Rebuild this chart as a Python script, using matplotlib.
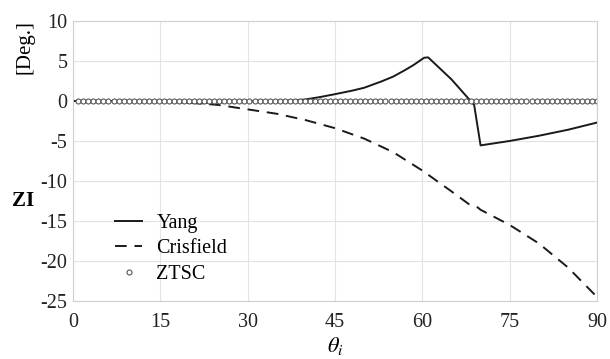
import numpy as np
import matplotlib.pyplot as plt

plt.rcParams['font.family'] = ['Liberation Serif', 'DejaVu Serif']
plt.rcParams['mathtext.fontset'] = 'stix'

# Yang
yang_x = [0, 10, 15, 18, 20, 22, 25, 30, 35, 38, 40, 42.5, 45, 48, 50, 53, 55, 57, 58.5, 59.5,
          60.3, 61, 65, 68.9, 70, 75, 80, 85, 90]
yang_y = [0, 0, -0.05, -0.15, -0.25, -0.3, -0.15, -0.05, 0, 0.05, 0.2, 0.5, 0.85, 1.3, 1.65,
          2.45, 3.05, 3.85, 4.5, 5.0, 5.4, 5.45, 2.7, -0.5, -5.55, -5.0, -4.35, -3.6, -2.7]

# Crisfield
cris_x = [0, 10, 15, 20, 25, 30, 35, 40, 45, 50, 55, 60, 65, 68, 69.5, 70, 75, 80, 85, 90]
cris_y = [0, 0, -0.05, -0.2, -0.5, -1.05, -1.6, -2.4, -3.4, -4.7, -6.4, -8.7, -11.3, -12.9,
          -13.3, -13.6, -15.5, -17.8, -20.8, -24.5]

# ZTSC
ztsc_x = np.linspace(0.9, 90, 104)
ztsc_y = np.zeros(len(ztsc_x))

fig = plt.figure(figsize=(6.1, 3.59), dpi=100)
ax = fig.add_axes([0.1197, 0.1616, 0.859, 0.78])

ax.plot(yang_x, yang_y, color='#1a1a1a', lw=1.4, label='Yang')
ax.plot(cris_x, cris_y, color='#1a1a1a', lw=1.4, ls=(0, (6, 4)), label='Crisfield')
ax.plot(ztsc_x, ztsc_y, ls='none', marker='o', ms=3.6, mfc='white', mec='#555555',
        mew=0.8, label='ZTSC')

ax.set_xlim(0, 90)
ax.set_ylim(-25, 10)
ax.set_xticks([0, 15, 30, 45, 60, 75, 90])
ax.set_yticks([10, 5, 0, -5, -10, -15, -20, -25])
ax.set_yticklabels(['10', '5', '0', '-5', '-10', '-15', '-20', '-25'])
ax.tick_params(length=0, labelsize=14.5, colors='#222222')
ax.tick_params(axis='x', pad=9)
ax.tick_params(axis='y', pad=4)
ax.grid(True, color='#e3e3e3', lw=0.8)
for s in ax.spines.values():
    s.set_color('#d0d0d0')
    s.set_linewidth(0.8)

ax.set_xlabel(r'$\theta_i$', fontsize=16, labelpad=2)
fig.text(0.041, 0.87, '[Deg.]', rotation=90, fontsize=15, ha='center', va='center')
fig.text(0.038, 0.44, 'ZI', fontsize=15, fontweight='bold', ha='center', va='center')

leg = ax.legend(loc='lower left', bbox_to_anchor=(0.065, 0.032), frameon=False, fontsize=14.5,
                handlelength=1.35, handletextpad=0.7, labelspacing=0.32, borderaxespad=0)

fig.savefig('out.png', dpi=100)
